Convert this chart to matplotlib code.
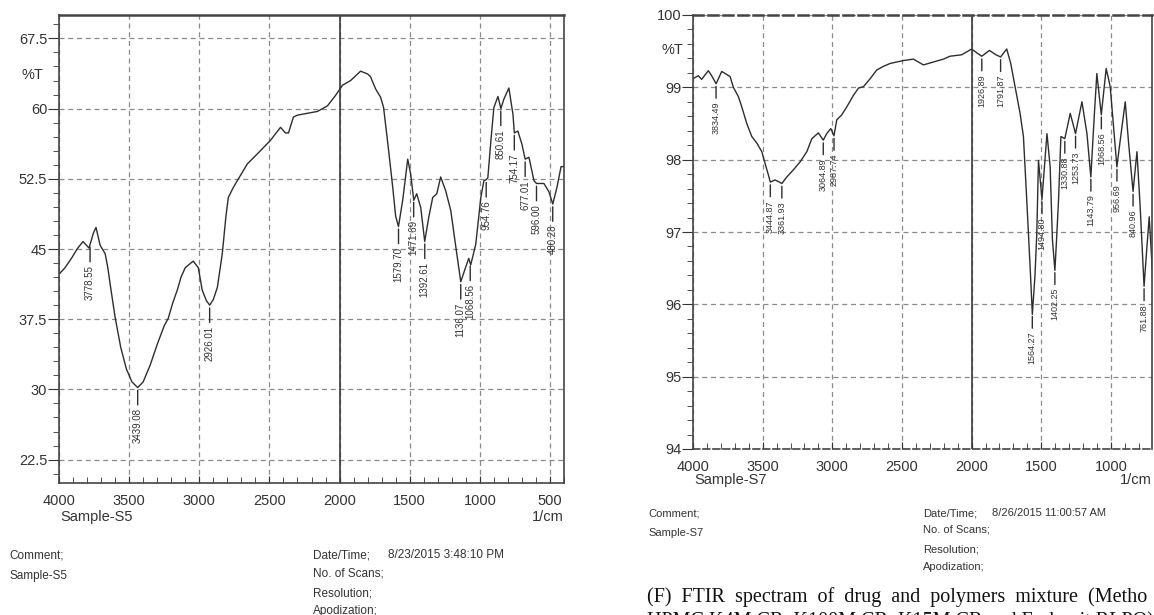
import matplotlib
matplotlib.use("Agg")
import matplotlib.pyplot as plt
import numpy as np
from matplotlib.ticker import MultipleLocator

plt.rcParams["font.family"] = ["Liberation Sans", "DejaVu Sans"]

# ----------------------------------------------------------------------
# Sample-S5 spectrum (wavenumber 1/cm, %T)
# ----------------------------------------------------------------------
s5_wn = [4000, 3957, 3907, 3871, 3829, 3786, 3755, 3736, 3707, 3671, 3652, 3636,
         3600, 3560, 3520, 3480, 3439, 3400, 3350, 3300, 3250, 3221, 3190, 3157,
         3130, 3100, 3060, 3043, 3007, 2979, 2950, 2926, 2900, 2871, 2836, 2810,
         2793, 2760, 2729, 2657, 2564, 2493, 2421, 2386, 2364, 2329, 2300, 2157,
         2086, 2029, 1979, 1921, 1850, 1800, 1779, 1743, 1707, 1686, 1650, 1621,
         1600, 1580, 1550, 1514, 1493, 1471, 1450, 1421, 1393, 1364, 1336, 1307,
         1279, 1243, 1207, 1171, 1136, 1100, 1079, 1065, 1029, 993, 971, 955,
         943, 921, 900, 871, 850, 829, 793, 764, 754, 729, 700, 677, 650, 614,
         596, 543, 507, 480, 450, 421, 400]
s5_t = [42.3, 43.0, 44.1, 45.0, 45.8, 45.1, 46.7, 47.3, 45.4, 44.5, 43.0, 41.3,
        37.7, 34.5, 32.2, 30.8, 30.2, 30.8, 32.6, 34.8, 36.8, 37.6, 39.2, 40.6,
        42.0, 43.0, 43.5, 43.7, 43.0, 40.6, 39.5, 39.0, 39.6, 40.9, 44.5, 48.5,
        50.5, 51.5, 52.3, 54.1, 55.5, 56.6, 58.0, 57.4, 57.4, 59.1, 59.3, 59.7,
        60.3, 61.4, 62.5, 63.0, 64.0, 63.7, 63.4, 62.1, 61.2, 60.1, 55.5, 51.6,
        48.5, 47.4, 50.2, 54.6, 53.0, 50.2, 50.9, 49.4, 45.8, 48.4, 50.5, 50.9,
        52.7, 51.2, 49.1, 45.2, 41.5, 43.1, 44.0, 43.3, 45.5, 50.5, 52.3, 52.4,
        52.6, 56.6, 60.1, 61.3, 60.0, 61.0, 62.2, 59.4, 57.4, 57.6, 56.2, 54.6,
        54.8, 52.3, 52.0, 52.0, 51.1, 49.8, 51.6, 53.8, 53.8]
s5_peaks = [3778.55, 3439.08, 2926.01, 1579.70, 1471.69, 1392.61, 1136.07,
            1068.56, 954.76, 850.61, 754.17, 677.01, 596.00, 480.28]

# ----------------------------------------------------------------------
# Sample-S7 spectrum
# ----------------------------------------------------------------------
s7_wn = [4000, 3962, 3938, 3890, 3866, 3834, 3794, 3760, 3734, 3710, 3674, 3650,
         3614, 3578, 3542, 3506, 3483, 3459, 3445, 3411, 3380, 3362, 3327, 3279,
         3231, 3183, 3147, 3100, 3065, 3040, 3011, 2988, 2968, 2932, 2896, 2848,
         2812, 2776, 2728, 2681, 2633, 2585, 2538, 2490, 2418, 2346, 2274, 2202,
         2155, 2071, 1999, 1958, 1927, 1872, 1825, 1792, 1748, 1719, 1688, 1652,
         1628, 1604, 1580, 1564, 1545, 1532, 1520, 1503, 1495, 1459, 1436, 1420,
         1402, 1390, 1376, 1359, 1331, 1292, 1254, 1208, 1172, 1144, 1120, 1101,
         1069, 1034, 1005, 957, 933, 897, 873, 841, 813, 790, 762, 745, 725, 700]
s7_t = [99.12, 99.16, 99.11, 99.23, 99.16, 99.05, 99.22, 99.18, 99.15, 99.00,
        98.87, 98.73, 98.50, 98.32, 98.23, 98.11, 97.95, 97.79, 97.69, 97.72,
        97.69, 97.67, 97.76, 97.86, 97.97, 98.11, 98.29, 98.37, 98.27, 98.36,
        98.43, 98.33, 98.55, 98.62, 98.73, 98.89, 98.99, 99.01, 99.12, 99.24,
        99.29, 99.33, 99.35, 99.37, 99.39, 99.31, 99.35, 99.39, 99.43, 99.45,
        99.53, 99.47, 99.43, 99.51, 99.45, 99.42, 99.53, 99.33, 99.01, 98.64,
        98.32, 97.44, 96.52, 95.86, 96.40, 96.98, 97.99, 97.63, 97.45, 98.36,
        97.90, 96.90, 96.47, 96.90, 97.44, 98.32, 98.29, 98.64, 98.36, 98.80,
        98.36, 97.76, 98.59, 99.19, 98.62, 99.26, 99.01, 97.90, 98.27, 98.80,
        98.23, 97.56, 98.11, 97.35, 96.25, 96.70, 97.21, 96.38]
s7_peaks = [3834.49, 3444.87, 3361.93, 3064.89, 2987.74, 1926.89, 1791.87,
            1564.27, 1494.80, 1402.25, 1330.88, 1253.73, 1143.79, 1068.56,
            956.69, 840.96, 761.88]

W, H = 1154, 615
INK = "#2e2e2e"
GRID = "#8a8a8a"


def px_rect(x0, y0, x1, y1):
    """Axes rectangle from pixel corners (top-left origin)."""
    return [x0 / W, 1 - y1 / H, (x1 - x0) / W, (y1 - y0) / H]


def ftext(x, y, s, **kw):
    kw.setdefault("color", "#333333")
    fig.text(x / W, 1 - y / H, s, **kw)


def draw_panel(ax, wn, t, peaks, xlim, ylim, ymaj, ymin, lab_fs, line_pt, dashed_frame):
    ax.plot(wn, t, color=INK, lw=1.0)
    ax.set_xlim(*xlim)
    ax.set_ylim(*ylim)
    ax.xaxis.set_major_locator(MultipleLocator(500))
    ax.xaxis.set_minor_locator(MultipleLocator(100))
    ax.yaxis.set_major_locator(MultipleLocator(ymaj))
    ax.yaxis.set_minor_locator(MultipleLocator(ymin))
    ax.grid(True, which="major", color=GRID, ls=(0, (4, 3)), lw=0.9)
    ax.axvline(2000, color="#3a3a3a", lw=1.2)
    ax.tick_params(axis="x", which="both", direction="in", colors="#333333",
                   labelsize=10.5, pad=8)
    ax.tick_params(axis="x", which="major", length=5)
    ax.tick_params(axis="x", which="minor", length=4)
    ax.tick_params(axis="y", which="major", direction="out", length=8,
                   labelsize=10.5, pad=0.5, colors="#333333")
    ax.tick_params(axis="y", which="minor", direction="out", length=4.3,
                   colors="#333333")
    for side in ax.spines.values():
        side.set_color("#444444")
        side.set_linewidth(1.2)
    ax.spines["top"].set_linewidth(1.8)
    if dashed_frame:
        ax.spines["top"].set_linestyle((0, (4, 2)))
        ax.spines["bottom"].set_linestyle((0, (4, 2)))

    # peak labels: short vertical stroke under the band, value written upward below
    asc_wn = np.asarray(wn)[::-1]
    asc_t = np.asarray(t)[::-1]
    for p in peaks:
        yv = np.interp(p, asc_wn, asc_t)
        ax.annotate(f"{p:.2f}", xy=(p, yv), xytext=(0, -(line_pt + 2)),
                    textcoords="offset points", rotation=90, ha="center", va="top",
                    fontsize=lab_fs, color="#333333",
                    arrowprops=dict(arrowstyle="-", color=INK, lw=1.0,
                                    shrinkA=0.5, shrinkB=2))


fig = plt.figure(figsize=(W / 100, H / 100), dpi=100)
fig.patch.set_facecolor("white")

ax1 = fig.add_axes(px_rect(59, 15, 564, 483))
draw_panel(ax1, s5_wn, s5_t, s5_peaks, (4000, 400), (20, 70), 7.5, 1.5,
           7, 13, False)
ax1.set_yticks([22.5, 30, 37.5, 45, 52.5, 60, 67.5])
ax1.set_yticklabels(["22.5", "30", "37.5", "45", "52.5", "60", "67.5"])

ax2 = fig.add_axes(px_rect(693, 15, 1152, 449))
draw_panel(ax2, s7_wn, s7_t, s7_peaks, (4000, 705), (94, 100), 1, 0.2,
           6.5, 11, True)
ax2.set_xticks([4000, 3500, 3000, 2500, 2000, 1500, 1000])

# axis captions
ftext(32, 75, "%T", fontsize=10.5, ha="center", va="center")
ftext(60, 517, "Sample-S5", fontsize=10.5, ha="left", va="center")
ftext(564, 517, "1/cm", fontsize=10.5, ha="right", va="center")

ftext(672, 50, "%T", fontsize=10.5, ha="center", va="center")
ftext(694, 480, "Sample-S7", fontsize=10.5, ha="left", va="center")
ftext(1152, 480, "1/cm", fontsize=10.5, ha="right", va="center")

# instrument info blocks
info_fs = 8.5
ftext(9, 555, "Comment;", fontsize=info_fs, va="center")
ftext(9, 576, "Sample-S5", fontsize=info_fs, va="center")
ftext(313, 555, "Date/Time;", fontsize=info_fs, va="center")
ftext(388, 555, "8/23/2015 3:48:10 PM", fontsize=info_fs, va="center")
ftext(313, 573, "No. of Scans;", fontsize=info_fs, va="center")
ftext(313, 594, "Resolution;", fontsize=info_fs, va="center")
ftext(313, 611, "Apodization;", fontsize=info_fs, va="center")

info_fs2 = 8
ftext(648, 514, "Comment;", fontsize=info_fs2, va="center")
ftext(648, 533, "Sample-S7", fontsize=info_fs2, va="center")
ftext(923, 513, "Date/Time;", fontsize=info_fs2, va="center")
ftext(992, 513, "8/26/2015 11:00:57 AM", fontsize=info_fs2, va="center")
ftext(923, 530, "No. of Scans;", fontsize=info_fs2, va="center")
ftext(923, 550, "Resolution;", fontsize=info_fs2, va="center")
ftext(923, 567, "Apodization;", fontsize=info_fs2, va="center")

# figure caption (serif; second line runs off the bottom edge as in the source)
ftext(647, 597, "(F)  FTIR  spectram  of  drug  and  polymers  mixture  (Metho",
      fontsize=14.5, family=["Liberation Serif", "DejaVu Serif"], color="#111111",
      va="center")
ftext(647, 611, "HPMC K4M CR, K100M CR, K15M CR and Eudragit RLPO)",
      fontsize=14.5, family=["Liberation Serif", "DejaVu Serif"], color="#111111",
      va="top")

fig.savefig("out.png", dpi=100, facecolor="white")
